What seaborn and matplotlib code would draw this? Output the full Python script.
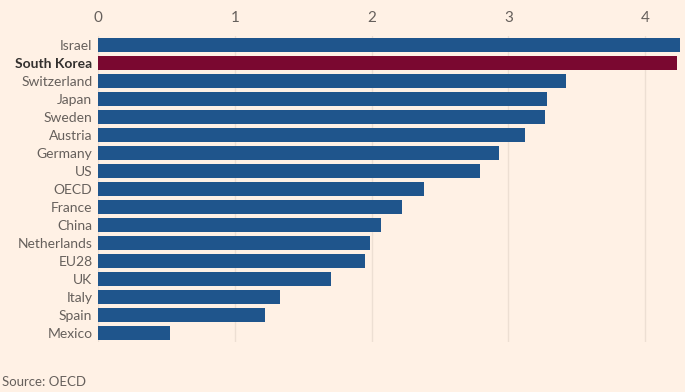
import matplotlib
matplotlib.use('Agg')
import matplotlib.pyplot as plt
import seaborn as sns
import pandas as pd

countries = ['Israel', 'South Korea', 'Switzerland', 'Japan', 'Sweden', 'Austria',
             'Germany', 'US', 'OECD', 'France', 'China', 'Netherlands', 'EU28',
             'UK', 'Italy', 'Spain', 'Mexico']
values = [4.25, 4.23, 3.42, 3.28, 3.27, 3.12, 2.93, 2.79, 2.38, 2.22, 2.07,
          1.99, 1.95, 1.70, 1.33, 1.22, 0.53]
highlight = 'South Korea'
x_ticks = [0, 1, 2, 3, 4]

BG = '#FFF1E5'
BLUE = '#1F558C'
CLARET = '#7A0830'
TEXT = '#66605C'
GRID = '#EDDFD3'

df = pd.DataFrame({'country': countries, 'value': values})
palette = {c: (CLARET if c == highlight else BLUE) for c in countries}

sns.set_style('white')
plt.rcParams['font.family'] = ['Lato', 'DejaVu Sans']

fig = plt.figure(figsize=(6.85, 3.92), dpi=100, facecolor=BG)
ax = fig.add_axes([0.143, 0.128, 0.857, 0.78])
ax.set_facecolor(BG)

sns.barplot(data=df, x='value', y='country', hue='country', palette=palette,
            legend=False, width=0.78, saturation=1, linewidth=0, ax=ax, zorder=3)

ax.set_xlim(0, 4.29)
ax.set_ylim(len(countries) - 0.5, -0.5)
ax.set_xticks(x_ticks)
ax.xaxis.tick_top()
ax.tick_params(axis='x', length=0, pad=8, labelsize=11, colors=TEXT)
ax.tick_params(axis='y', length=0, pad=4, labelsize=10, colors=TEXT)
ax.grid(axis='x', color=GRID, linewidth=1, zorder=0)
ax.set_xlabel('')
ax.set_ylabel('')
for s in ax.spines.values():
    s.set_visible(False)

for lbl in ax.get_yticklabels():
    if lbl.get_text() == highlight:
        lbl.set_fontweight('bold')
        lbl.set_color('#33302E')

fig.text(0.003, 0.01, 'Source: OECD', fontsize=9.5, color=TEXT, ha='left', va='bottom')

fig.savefig('out.png', dpi=100, facecolor=BG)
